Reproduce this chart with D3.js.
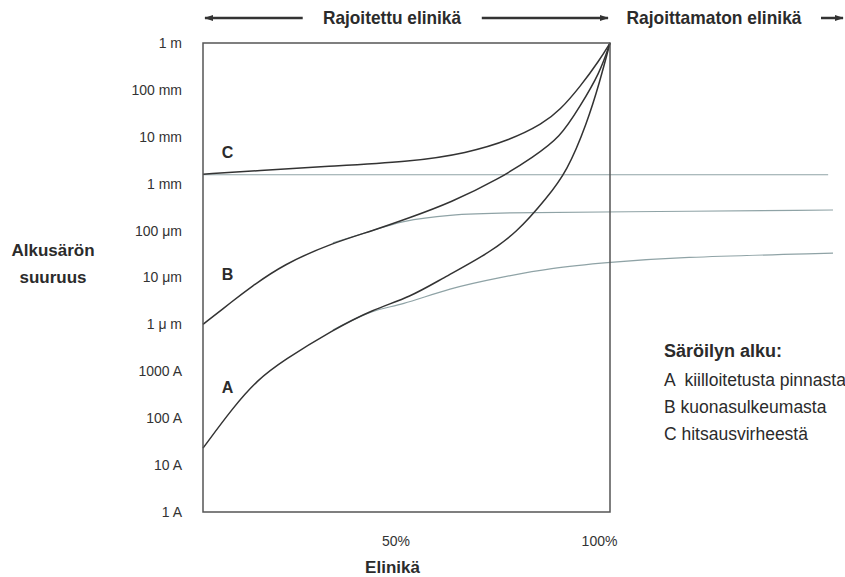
<!DOCTYPE html>
<html>
<head>
<meta charset="utf-8">
<script src="https://cdn.jsdelivr.net/npm/d3@7"></script>
<style>
  body { margin: 0; background: #fff; }
  svg text { font-family: "Liberation Sans", Arial, sans-serif; fill: #2b2b2b; }
</style>
</head>
<body>
<div id="chart"></div>
<script>
// y axis ticks (crack size in metres) and their labels
const tickValues = [1e-10, 1e-9, 1e-8, 1e-7, 1e-6, 1e-5, 1e-4, 1e-3, 1e-2, 1e-1, 1];
const tickLabels = ["1 A", "10 A", "100 A", "1000 A", "1 μ m", "10 μm", "100 μm", "1 mm", "10 mm", "100 mm", "1 m"];

// x axis ticks (life %)
const lifeTicks = [50, 100];

// solid curves: life % and initial crack size (m)
const lifeA = [0, 7.4, 13.3, 19.7, 31.9, 41.8, 50.9, 59.0, 68.8, 77.1, 84.5, 89.4, 94.3, 97.5, 100];
const sizeA = [2.3e-9, 1.7e-8, 6.5e-8, 1.7e-7, 7.6e-7, 2.1e-6, 3.8e-6, 9.8e-6, 2.8e-5, 8.9e-5, 5.0e-4, 1.8e-3, 1.9e-2, 0.15, 1];

const lifeB = [0, 7.4, 11.5, 19.7, 31.9, 41.8, 50.9, 60.7, 73.0, 81.1, 87.7, 92.6, 97.5, 100];
const sizeB = [1.0e-6, 3.2e-6, 6.0e-6, 1.9e-5, 5.5e-5, 1.0e-4, 1.9e-4, 3.9e-4, 1.3e-3, 3.7e-3, 9.5e-3, 4.4e-2, 0.23, 1];

const lifeC = [0, 14, 28.7, 50.9, 64.9, 75.4, 83.5, 87.7, 92.6, 97.5, 100];
const sizeC = [1.6e-3, 1.9e-3, 2.3e-3, 2.9e-3, 4.5e-3, 8.5e-3, 1.9e-2, 3.7e-2, 0.115, 0.44, 1];

// grey continuation lines (unlimited life)
const lifeGA = [31.9, 41.8, 48.4, 60.7, 73.0, 85.3, 100, 115.5, 154.8];
const sizeGA = [7.6e-7, 2.1e-6, 2.5e-6, 6.0e-6, 1.0e-5, 1.6e-5, 2.1e-5, 2.7e-5, 3.3e-5];
const lifeGB = [31.9, 41.8, 48.4, 60.7, 73.0, 100, 154.8];
const sizeGB = [5.5e-5, 1.0e-4, 1.6e-4, 2.2e-4, 2.4e-4, 2.5e-4, 2.75e-4];
const lifeGC = [0, 153.6];
const sizeGC = [1.55e-3, 1.55e-3];

// legend
const legendTitle = "Säröilyn alku:";
const legendItems = ["A  kiilloitetusta pinnasta", "B kuonasulkeumasta", "C hitsausvirheestä"];

const width = 845;
const height = 577;
const margin = { top: 43, right: 235, bottom: 65, left: 203 };

const svg = d3.select("#chart")
  .append("svg")
  .attr("width", width)
  .attr("height", height);

const x = d3.scaleLinear()
  .domain([0, 100])
  .range([margin.left, width - margin.right]);

const y = d3.scaleLog()
  .domain([1e-10, 1])
  .range([height - margin.bottom, margin.top]);

const line = d3.line()
  .x(d => x(d[0]))
  .y(d => y(d[1]))
  .curve(d3.curveBasis);

// grey lines first
[[lifeGA, sizeGA], [lifeGB, sizeGB], [lifeGC, sizeGC]].forEach(([l, s]) => {
  svg.append("path")
    .datum(d3.zip(l, s))
    .attr("d", line)
    .attr("fill", "none")
    .attr("stroke", "#8fa3a6")
    .attr("stroke-width", 1.2);
});

// black curves
[[lifeA, sizeA], [lifeB, sizeB], [lifeC, sizeC]].forEach(([l, s]) => {
  svg.append("path")
    .datum(d3.zip(l, s))
    .attr("d", line)
    .attr("fill", "none")
    .attr("stroke", "#333")
    .attr("stroke-width", 1.5);
});

// frame
svg.append("rect")
  .attr("x", x(0))
  .attr("y", y(1))
  .attr("width", x(100) - x(0))
  .attr("height", y(1e-10) - y(1))
  .attr("fill", "none")
  .attr("stroke", "#555")
  .attr("stroke-width", 1.5);

// y axis
const yAxis = svg.append("g")
  .attr("transform", `translate(${x(0)}, 0)`)
  .call(d3.axisLeft(y).tickValues(tickValues).tickFormat((d, i) => tickLabels[i]).tickSize(0).tickPadding(21));
yAxis.select(".domain").remove();
yAxis.selectAll("text")
  .style("font-size", "14px")
  .style("fill", "#333");

// x axis labels
const xAxis = svg.append("g")
  .attr("transform", `translate(0, ${y(1e-10)})`)
  .call(d3.axisBottom(x).tickValues(lifeTicks).tickFormat(d => d + "%").tickSize(0).tickPadding(24));
xAxis.select(".domain").remove();
xAxis.selectAll("text")
  .attr("dx", -11)
  .style("font-size", "14px")
  .style("fill", "#333");

svg.append("text")
  .attr("x", x(50) - 14)
  .attr("y", 573)
  .attr("text-anchor", "middle")
  .style("font-size", "17px")
  .style("font-weight", "bold")
  .text("Elinikä");

// y title
svg.append("text")
  .attr("x", 53)
  .attr("y", 256)
  .attr("text-anchor", "middle")
  .style("font-size", "17px")
  .style("font-weight", "bold")
  .text("Alkusärön");
svg.append("text")
  .attr("x", 53)
  .attr("y", 283)
  .attr("text-anchor", "middle")
  .style("font-size", "17px")
  .style("font-weight", "bold")
  .text("suuruus");

// curve letters
svg.append("text").attr("x", x(6)).attr("y", y(1.6e-3) - 16).attr("text-anchor", "middle")
  .style("font-size", "16px").style("font-weight", "bold").text("C");
svg.append("text").attr("x", x(6)).attr("y", y(1.0e-6) - 44).attr("text-anchor", "middle")
  .style("font-size", "16px").style("font-weight", "bold").text("B");
svg.append("text").attr("x", x(6)).attr("y", y(2.3e-9) - 55).attr("text-anchor", "middle")
  .style("font-size", "16px").style("font-weight", "bold").text("A");

// top arrows
const defs = svg.append("defs");
defs.append("marker")
  .attr("id", "head")
  .attr("viewBox", "0 0 10 10")
  .attr("refX", 9)
  .attr("refY", 5)
  .attr("markerWidth", 3.6)
  .attr("markerHeight", 3.6)
  .attr("markerUnits", "strokeWidth")
  .attr("orient", "auto-start-reverse")
  .append("path")
  .attr("d", "M0,1.5 L10,5 L0,8.5 z")
  .attr("fill", "#333");

const arrowY = 18;
svg.append("line")
  .attr("x1", x(0) + 2).attr("x2", x(24.5)).attr("y1", arrowY).attr("y2", arrowY)
  .attr("stroke", "#333").attr("stroke-width", 2.5)
  .attr("marker-start", "url(#head)");
svg.append("line")
  .attr("x1", x(68.5)).attr("x2", x(99.5)).attr("y1", arrowY).attr("y2", arrowY)
  .attr("stroke", "#333").attr("stroke-width", 2.5)
  .attr("marker-end", "url(#head)");
svg.append("line")
  .attr("x1", 821).attr("x2", 843).attr("y1", arrowY).attr("y2", arrowY)
  .attr("stroke", "#333").attr("stroke-width", 2.5)
  .attr("marker-end", "url(#head)");

svg.append("text")
  .attr("x", 392)
  .attr("y", arrowY + 6)
  .attr("text-anchor", "middle")
  .attr("textLength", 138)
  .attr("lengthAdjust", "spacingAndGlyphs")
  .style("font-size", "18.5px")
  .style("font-weight", "bold")
  .text("Rajoitettu elinikä");
svg.append("text")
  .attr("x", 714)
  .attr("y", arrowY + 6)
  .attr("text-anchor", "middle")
  .attr("textLength", 175)
  .attr("lengthAdjust", "spacingAndGlyphs")
  .style("font-size", "18.5px")
  .style("font-weight", "bold")
  .text("Rajoittamaton elinikä");

// legend
const legend = svg.append("g").attr("transform", "translate(664, 357)");
legend.append("text")
  .style("font-size", "18px")
  .style("font-weight", "bold")
  .text(legendTitle);
legend.selectAll("text.item")
  .data(legendItems)
  .enter()
  .append("text")
  .attr("class", "item")
  .attr("y", (d, i) => 29 + i * 27)
  .attr("xml:space", "preserve")
  .style("white-space", "pre")
  .style("font-size", "17.5px")
  .text(d => d);
</script>
</body>
</html>
